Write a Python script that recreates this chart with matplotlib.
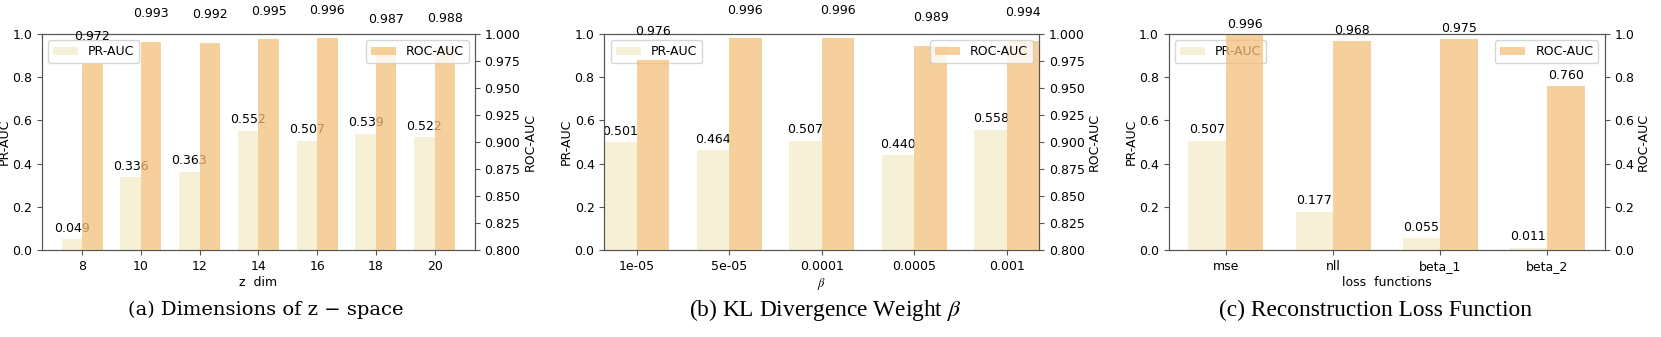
import numpy as np
import matplotlib
matplotlib.use('Agg')
import matplotlib.pyplot as plt

# datele pentru cele trei panouri
zdim_labels = ['8', '10', '12', '14', '16', '18', '20']
zdim_pr = [0.049, 0.336, 0.363, 0.552, 0.507, 0.539, 0.522]
zdim_roc = [0.972, 0.993, 0.992, 0.995, 0.996, 0.987, 0.988]

beta_labels = ['1e-05', '5e-05', '0.0001', '0.0005', '0.001']
beta_pr = [0.501, 0.464, 0.507, 0.440, 0.558]
beta_roc = [0.976, 0.996, 0.996, 0.989, 0.994]

loss_labels = ['mse', 'nll', 'beta_1', 'beta_2']
loss_pr = [0.507, 0.177, 0.055, 0.011]
loss_roc = [0.996, 0.968, 0.975, 0.760]

plt.rcParams['font.size'] = 9
plt.rcParams['mathtext.fontset'] = 'stix'

pr_color = '#F5F0D6'
roc_color = '#F2C07B'
spine_color = '#555555'
w = 0.35

fig = plt.figure(figsize=(16.61, 3.37), dpi=100)


def panel(rect, labels, pr, roc, xlabel, roc_lim, roc_ticks, roc_fmt, tight_x):
    ax1 = fig.add_axes(rect)
    x = np.arange(len(labels))
    b1 = ax1.bar(x - w / 2, pr, w, color=pr_color, label='PR-AUC')
    ax1.set_ylim(0, 1)
    ax1.set_ylabel('PR-AUC', labelpad=1)
    ax1.set_xlabel(xlabel, labelpad=2)
    ax1.set_xticks(x)
    ax1.set_xticklabels(labels)
    for r, v in zip(b1, pr):
        ax1.text(r.get_x() + r.get_width() / 2, v + 0.02, '%.3f' % v,
                 ha='center', va='bottom')
    ax1.legend(loc='upper left')

    ax2 = ax1.twinx()
    b2 = ax2.bar(x + w / 2, roc, w, color=roc_color, alpha=0.75, label='ROC-AUC')
    ax2.set_ylim(*roc_lim)
    ax2.set_yticks(roc_ticks)
    ax2.set_yticklabels([roc_fmt % t for t in roc_ticks])
    ax2.set_ylabel('ROC-AUC', labelpad=2)
    for r, v in zip(b2, roc):
        ax2.text(r.get_x() + r.get_width() / 2, v + 0.02, '%.3f' % v,
                 ha='center', va='bottom')
    ax2.legend(loc='upper right')

    if tight_x:
        ax1.set_xlim(-w, len(labels) - 1 + w)

    for ax in (ax1, ax2):
        for s in ax.spines.values():
            s.set_color(spine_color)
        ax.tick_params(color=spine_color)
    return ax1


roc_fine = np.arange(0.8, 1.0001, 0.025)
roc_coarse = np.arange(0, 1.0001, 0.2)

panel([0.0252, 0.258, 0.2607, 0.641], zdim_labels, zdim_pr, zdim_roc,
      'z  dim', (0.8, 1.0), roc_fine, '%.3f', False)
panel([0.3638, 0.258, 0.2619, 0.641], beta_labels, beta_pr, beta_roc,
      r'$\beta$', (0.8, 1.0), roc_fine, '%.3f', True)
panel([0.7036, 0.258, 0.2624, 0.641], loss_labels, loss_pr, loss_roc,
      'loss  functions', (0, 1.0), roc_coarse, '%.1f', False)

cap = dict(ha='center', va='center', fontsize=16.8, family='Liberation Serif')
fig.text(0.160, 0.08, '(a) Dimensions of z − space', ha='center', va='center',
         fontsize=14, family='DejaVu Serif')
fig.text(0.4967, 0.08, r'(b) KL Divergence Weight $\beta$', **cap)
fig.text(0.8284, 0.08, '(c) Reconstruction Loss Function', **cap)

fig.savefig('out.png', dpi=100)
